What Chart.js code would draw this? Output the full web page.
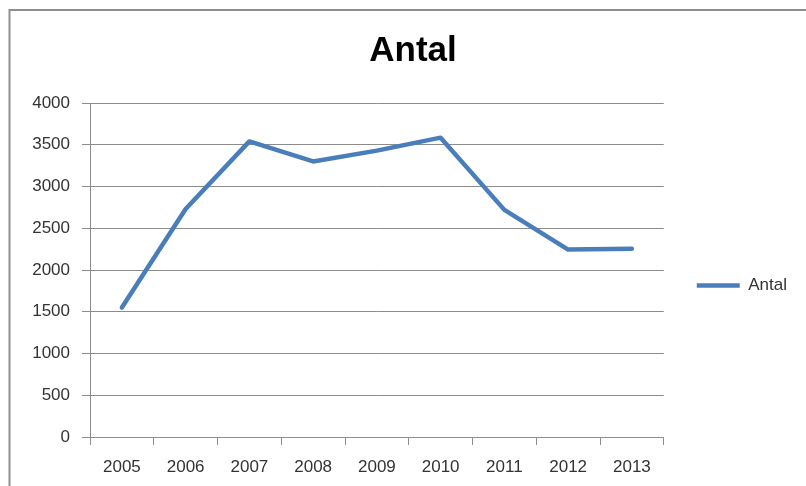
<!DOCTYPE html>
<html>
<head>
<meta charset="utf-8">
<title>Antal</title>
<script src="https://cdn.jsdelivr.net/npm/chart.js@4.4.1/dist/chart.umd.min.js"></script>
<style>
	html, body { margin: 0; padding: 0; background: #fff; }
	#wrap { width: 806px; height: 486px; }
</style>
</head>
<body>
<div id="wrap"><canvas id="antal-chart"></canvas></div>
<script>
// Chart data.
var years = ['2005', '2006', '2007', '2008', '2009', '2010', '2011', '2012', '2013'];
var antal = [1550, 2730, 3540, 3300, 3430, 3585, 2720, 2245, 2255];
var yMin = 0;
var yMax = 4000;
var yStep = 500;

var gridGray = '#8c8c8c';
var textGray = '#333';

Chart.defaults.font.family = '"Liberation Sans", Arial, sans-serif';

// Grey frame round the chart, like the Excel chart area border.
var chartFrame = {
	id: 'chartFrame',
	beforeDraw: function (chart) {
		var ctx = chart.ctx;
		ctx.save();
		ctx.fillStyle = '#fff';
		ctx.fillRect(0, 0, chart.width, chart.height);
		ctx.strokeStyle = '#8e8e8e';
		ctx.lineWidth = 2;
		ctx.strokeRect(9.5, 10, chart.width + 20, chart.height + 20);
		ctx.restore();
	}
};

new Chart(document.getElementById('antal-chart'), {
	type: 'line',
	data: {
		labels: years,
		datasets: [{
			label: 'Antal',
			data: antal,
			borderColor: '#4a7ebb',
			backgroundColor: '#4a7ebb',
			borderWidth: 4.5,
			borderJoinStyle: 'round',
			borderCapStyle: 'round',
			pointRadius: 0,
			tension: 0,
			fill: false
		}]
	},
	plugins: [chartFrame],
	options: {
		responsive: true,
		maintainAspectRatio: false,
		animation: false,
		layout: { padding: { left: 29, right: 9, top: 20, bottom: 9 } },
		plugins: {
			title: {
				display: true,
				text: 'Antal',
				color: '#000',
				font: { size: 35, weight: 'bold' },
				padding: { top: 10, bottom: 31 }
			},
			legend: {
				position: 'right',
				fullSize: false,
				title: {
					display: true,
					text: '',
					font: { size: 10, lineHeight: 1 },
					padding: { top: 21, bottom: 0 }
				},
				labels: {
					usePointStyle: true,
					pointStyle: 'line',
					pointStyleWidth: 43,
					padding: 33,
					color: textGray,
					font: { size: 17 }
				}
			},
			tooltip: { enabled: false }
		},
		scales: {
			x: {
				offset: true,
				grid: {
					offset: true,
					drawOnChartArea: false,
					drawTicks: true,
					tickLength: 8,
					color: gridGray
				},
				border: { color: gridGray },
				ticks: {
					padding: 12,
					color: textGray,
					font: { size: 17 },
					maxRotation: 0,
					autoSkip: false
				},
				afterFit: function (scale) { scale.height = 40; }
			},
			y: {
				min: yMin,
				max: yMax,
				ticks: {
					stepSize: yStep,
					padding: 12,
					color: textGray,
					font: { size: 17 },
					callback: function (value) { return String(value); }
				},
				grid: { color: gridGray, tickLength: 8 },
				border: { color: gridGray },
				afterFit: function (scale) { scale.width = 61; }
			}
		}
	}
});
</script>
</body>
</html>
